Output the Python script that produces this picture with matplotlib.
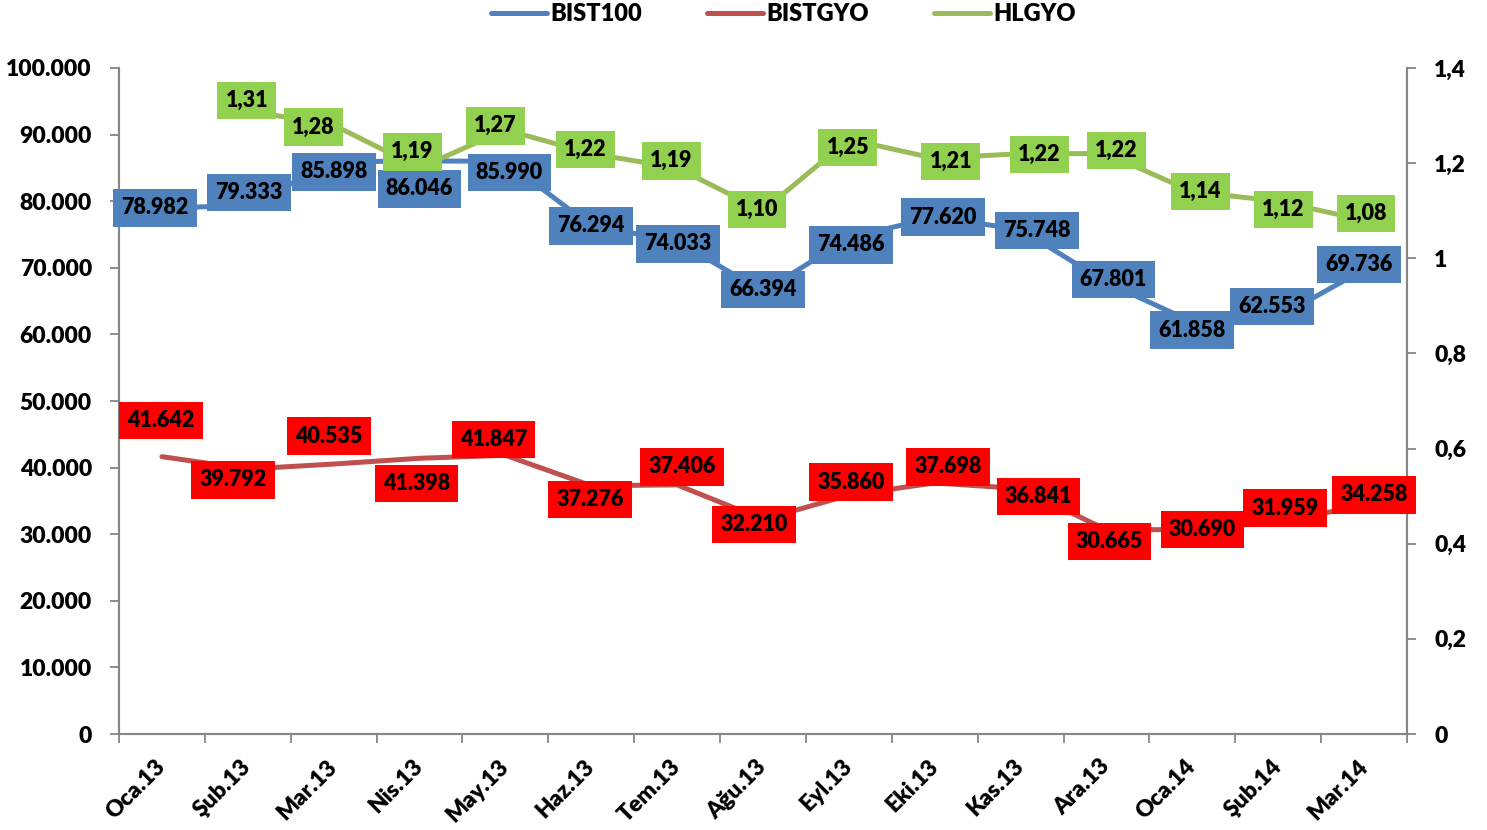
import matplotlib
matplotlib.use("Agg")
import matplotlib.pyplot as plt
import numpy as np
from matplotlib.ticker import FuncFormatter, MultipleLocator, FixedLocator, NullFormatter

plt.rcParams['font.family'] = ['Lato', 'DejaVu Sans']

categories = ["Oca.13", "Şub.13", "Mar.13", "Nis.13", "May.13", "Haz.13", "Tem.13",
              "Ağu.13", "Eyl.13", "Eki.13", "Kas.13", "Ara.13", "Oca.14", "Şub.14", "Mar.14"]
bist100 = [78982, 79333, 85898, 86046, 85990, 76294, 74033, 66394, 74486, 77620,
           75748, 67801, 61858, 62553, 69736]
bistgyo = [41642, 39792, 40535, 41398, 41847, 37276, 37406, 32210, 35860, 37698,
           36841, 30665, 30690, 31959, 34258]
hlgyo = [np.nan, 1.31, 1.28, 1.19, 1.27, 1.22, 1.19, 1.10, 1.25, 1.21, 1.22, 1.22,
         1.14, 1.12, 1.08]

# label offsets in pixels (dx, dy downwards)
off_blue = [(-7, 0), (1, -13), (0, 10), (0, 28), (4, 11), (0, 0), (1, 3), (0, -2), (2, 7),
            (8, 0), (16, 1), (7, -3), (0, 8), (-6, -11), (-5, -5)]
off_red = [(-1, -36), (-15, 11), (-5, -28), (-3, 25), (-12, -16), (-1, 14), (5, -18), (-9, 5),
           (2, -13), (13, -16), (18, 8), (3, 12), (10, 0), (7, -13), (10, -11)]
off_green = [None, (-1, -10), (-20, 2), (-7, -16), (-10, -4), (-6, -4), (-6, -7), (-6, -1),
             (-1, 8), (16, 3), (19, 1), (10, -3), (8, 0), (5, 8), (2, -7)]

C_BLUE = "#4F81BD"
C_RED = "#C0504D"
C_GREEN = "#9BBB59"
BOX_RED = "#FF0000"
BOX_GREEN = "#92D050"
SPINE = "#868686"
FS_AX = 16.5
FS_LAB = 15.5
FS_LEG = 17
W = 'heavy'

fig = plt.figure(figsize=(14.87, 8.30), dpi=100)
ax = fig.add_axes([119 / 1487, 1 - 734 / 830, (1407 - 119) / 1487, (734 - 68) / 830])
ax2 = ax.twinx()

x = np.arange(len(categories))
l1, = ax.plot(x, bist100, color=C_BLUE, lw=3.6, solid_capstyle='round', zorder=2)
l2, = ax.plot(x, bistgyo, color=C_RED, lw=3.6, solid_capstyle='round', zorder=2)
l3, = ax2.plot(x, hlgyo, color=C_GREEN, lw=3.6, solid_capstyle='round', zorder=2)

ax.set_xlim(-0.5, len(categories) - 0.5)
ax.set_ylim(0, 100000)
ax2.set_ylim(0, 1.4)
ax.yaxis.set_major_locator(MultipleLocator(10000))
ax2.yaxis.set_major_locator(MultipleLocator(0.2))
ax.yaxis.set_major_formatter(FuncFormatter(lambda v, p: f"{int(round(v)):,}".replace(",", ".")))


def rfmt(v, p):
    s = f"{v:.1f}".rstrip("0").rstrip(".")
    return s.replace(".", ",")


ax2.yaxis.set_major_formatter(FuncFormatter(rfmt))

ax.xaxis.set_major_locator(FixedLocator(np.arange(-0.5, len(categories), 1.0)))
ax.xaxis.set_major_formatter(NullFormatter())
ax.xaxis.set_minor_locator(FixedLocator(x))
ax.set_xticklabels(categories, minor=True)
ax.tick_params(axis='x', which='minor', length=0, pad=21)
ax.tick_params(axis='x', which='major', length=6.5, width=1.3, color=SPINE, direction='out')
for lab in ax.get_xticklabels(minor=True):
    lab.set_rotation(45)
    lab.set_ha('right')
    lab.set_va('center')
    lab.set_rotation_mode('anchor')
    lab.set_fontsize(FS_AX)
    lab.set_fontweight(W)

ax.tick_params(axis='y', length=6.5, width=1.3, color=SPINE, pad=13, labelsize=FS_AX)
ax2.tick_params(axis='y', length=6.5, width=1.3, color=SPINE, pad=13, labelsize=FS_AX)
for lab in ax.get_yticklabels() + ax2.get_yticklabels():
    lab.set_fontweight(W)

for a in (ax, ax2):
    a.spines['top'].set_visible(False)
    for s in ('left', 'right', 'bottom'):
        a.spines[s].set_color(SPINE)
        a.spines[s].set_linewidth(1.5)


def add_labels(values, offsets, trans, fmt, box):
    for i, v in enumerate(values):
        if offsets[i] is None or np.isnan(v):
            continue
        dx, dy = offsets[i]
        ax2.annotate(fmt(v), xy=(x[i], v), xycoords=trans,
                     xytext=(dx, -dy), textcoords='offset pixels',
                     ha='center', va='center', fontsize=FS_LAB, fontweight=W,
                     color='black', zorder=5, annotation_clip=False,
                     bbox=dict(boxstyle='square,pad=0.38', fc=box, ec='none'))


add_labels(bist100, off_blue, ax.transData, lambda v: f"{v:,}".replace(",", "."), C_BLUE)
add_labels(bistgyo, off_red, ax.transData, lambda v: f"{v:,}".replace(",", "."), BOX_RED)
add_labels(hlgyo, off_green, ax2.transData, lambda v: f"{v:.2f}".replace(".", ","), BOX_GREEN)

leg = fig.legend([l1, l2, l3], ["BIST100", "BISTGYO", "HLGYO"], loc='upper center',
                 bbox_to_anchor=(0.527, 1.022), ncol=3, frameon=False, handlelength=2.37,
                 handletextpad=0.15, columnspacing=2.75,
                 prop={'weight': W, 'size': FS_LEG})

fig.savefig("out.png", dpi=100)
